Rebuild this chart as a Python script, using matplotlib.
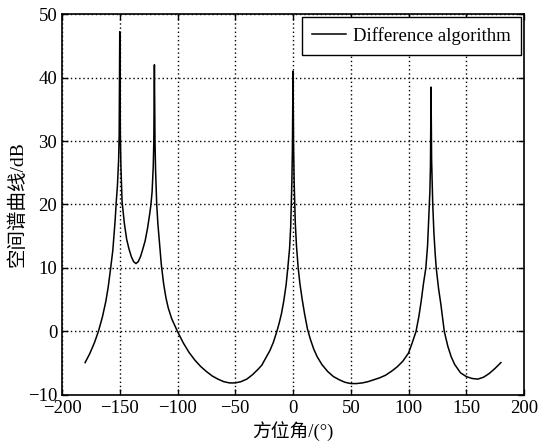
import matplotlib
matplotlib.use('Agg')
import matplotlib.pyplot as plt

plt.rcParams['font.family'] = ['Liberation Serif', 'Noto Sans CJK SC']
plt.rcParams['axes.unicode_minus'] = True

# azimuth angle [deg] and spatial spectrum [dB]
angle = [-180, -176, -172, -168.5, -165, -162, -160, -158, -156, -154, -153, -152,
         -151, -150.5, -150, -149.5, -149, -148, -146, -144, -142, -140, -138, -136,
         -134, -132, -130, -128, -126, -124, -123, -122, -121, -120.5, -120, -119.5,
         -119, -118, -117, -116, -114, -112, -110, -108, -105, -100, -95, -90, -85,
         -80, -75, -70, -65, -60, -55, -50, -45, -40, -35, -30, -27, -24, -20, -17,
         -14, -12, -10, -8, -6, -4.5, -3, -2, -1.5, -1, -0.5, 0, 0.5, 1, 1.5, 2, 3,
         4.5, 6, 8, 10, 12.5, 15, 18, 21, 25, 30, 35, 40, 45, 50, 55, 60, 65, 70, 75,
         80, 85, 90, 95, 100, 103, 106.5, 109, 111, 113, 115, 116.5, 118, 118.5, 119,
         119.5, 120, 120.5, 121, 122, 123, 124, 126, 128, 131, 134, 137, 140, 145,
         150, 155, 160, 165, 170, 175, 180]
spectrum = [-4.9, -3.5, -1.8, 0, 2.3, 4.8, 7, 9.8, 12.8, 17.5, 20.5, 23,
            27, 31, 47.2, 31, 26, 20.5, 17, 14.5, 13, 11.8, 11, 10.7,
            11, 11.8, 13, 14.3, 16.2, 18.6, 20, 22, 26, 30, 42, 30,
            25.5, 20, 17, 14.8, 10.5, 7.5, 5.3, 3.7, 2, 0, -1.8, -3.3, -4.5,
            -5.5, -6.3, -7.0, -7.5, -7.9, -8.1, -8.1, -7.9, -7.5, -6.8, -5.9, -5.3, -4.3, -3, -1.7,
            0, 1.3, 2.8, 4.8, 7.3, 10, 13, 16.5, 20, 23.5, 29, 41, 29, 23.5, 20, 17, 13.5,
            10, 7.5, 5, 2.8, 0.4, -1.2, -2.8, -4, -5.2, -6.3, -7.1, -7.6, -8.0, -8.2, -8.2, -8.1, -7.9, -7.6, -7.3,
            -6.9, -6.3, -5.6, -4.7, -3.4, -1.9, 0, 2.4, 4.8, 7.6, 10, 13.5, 20, 22, 26,
            38.5, 27, 23.5, 20, 15.5, 12.5, 10, 6.8, 4.3, 0, -2.3, -4, -5.2, -6.5,
            -7.1, -7.4, -7.5, -7.2, -6.6, -5.8, -4.9]

xticks = [-200, -150, -100, -50, 0, 50, 100, 150, 200]
yticks = [-10, 0, 10, 20, 30, 40, 50]

fig = plt.figure(figsize=(5.42, 4.45), dpi=100)
ax = fig.add_axes([0.1144, 0.1124, 0.8524, 0.8561])
ax.plot(angle, spectrum, color='black', linewidth=1.1, label='Difference algorithm')

ax.set_xlim(-200, 200)
ax.set_ylim(-10, 50)
ax.set_xticks(xticks)
ax.set_yticks(yticks)
ax.grid(True, color='black', linestyle=(0, (1, 2)), linewidth=1.0)
ax.tick_params(direction='in', top=True, right=True, labelsize=13.5, length=4, width=1)
for s in ax.spines.values():
    s.set_linewidth(1.2)

ax.set_xlabel('方位角/(°)', fontsize=13.5, labelpad=3)
ax.set_ylabel('空间谱曲线/dB', fontsize=14, labelpad=1)

leg = ax.legend(loc='upper right', fontsize=13.5, fancybox=False, framealpha=1,
                edgecolor='black', handlelength=1.8, borderaxespad=0.15,
                borderpad=0.55, handletextpad=0.4)
leg.get_frame().set_linewidth(1.0)

fig.savefig('out.png', dpi=100)
